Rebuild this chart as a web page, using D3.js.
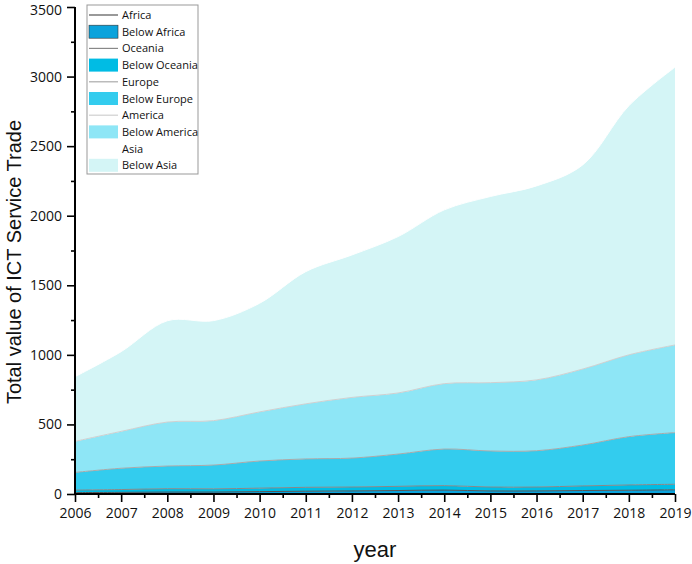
<!DOCTYPE html>
<html>
<head>
<meta charset="utf-8">
<script src="https://cdn.jsdelivr.net/npm/d3@7"></script>
<style>
  body { margin: 0; background: #fff; }
  .axis text { font-family: "Open Sans", sans-serif; font-size: 14px; fill: #111; }
  .axis path, .axis line { stroke: #000; }
</style>
</head>
<body>
<div class="chart-container"></div>
<script>
const years = [2006, 2007, 2008, 2009, 2010, 2011, 2012, 2013, 2014, 2015, 2016, 2017, 2018, 2019];

// values per region (stacked bottom -> top)
const africa  = [10, 12, 14, 14, 17, 20, 22, 25, 28, 22, 22, 25, 27, 30];
const oceania = [18, 20, 24, 23, 25, 28, 28, 30, 32, 28, 28, 33, 38, 40];
const europe  = [127, 153, 163, 171, 195, 204, 208, 232, 263, 259, 261, 294, 347, 371];
const america = [223, 265, 316, 319, 353, 396, 436, 439, 470, 491, 509, 546, 588, 630];
const asia    = [465, 573, 728, 719, 781, 950, 1024, 1124, 1249, 1338, 1394, 1467, 1790, 1996];

const regions = ["Africa", "Oceania", "Europe", "America", "Asia"];
const fillColors = ["#0ba3dc", "#00bce4", "#33ccee", "#8ee6f6", "#d4f5f6"];
const lineColors = ["#555555", "#888888", "#aaaaaa", "#d0d0d0", "#ffffff"];

const yTicks = [0, 500, 1000, 1500, 2000, 2500, 3000, 3500];

const width = 692, height = 564;
const margin = { left: 75, top: 7, right: 17, bottom: 70 };

const table = years.map((yr, i) => ({
  year: yr,
  Africa: africa[i],
  Oceania: oceania[i],
  Europe: europe[i],
  America: america[i],
  Asia: asia[i]
}));

const svg = d3.select(".chart-container")
  .append("svg")
  .attr("width", width)
  .attr("height", height);

const x = d3.scaleLinear()
  .domain([2006, 2019])
  .range([margin.left, width - margin.right]);

const y = d3.scaleLinear()
  .domain([0, 3500])
  .range([height - margin.bottom, margin.top]);

const series = d3.stack().keys(regions)(table);

const area = d3.area()
  .x(d => x(d.data.year))
  .y0(d => y(d[0]))
  .y1(d => y(d[1]))
  .curve(d3.curveCatmullRom);

const line = d3.line()
  .x(d => x(d.data.year))
  .y(d => y(d[1]))
  .curve(d3.curveCatmullRom);

svg.append("g")
  .selectAll("path")
  .data(series)
  .enter()
  .append("path")
  .attr("fill", (d, i) => fillColors[i])
  .attr("d", area);

svg.append("g")
  .selectAll("path")
  .data(series)
  .enter()
  .append("path")
  .attr("fill", "none")
  .attr("stroke", (d, i) => lineColors[i])
  .attr("stroke-width", 1)
  .attr("d", line);

// X axis (major + minor ticks)
const xAxisG = svg.append("g")
  .attr("class", "axis")
  .attr("transform", "translate(0," + y(0) + ")");
xAxisG.call(d3.axisBottom(x).tickValues(years).tickFormat(d3.format("d")).tickSize(8).tickPadding(6));
svg.append("g")
  .attr("class", "axis")
  .attr("transform", "translate(0," + y(0) + ")")
  .call(d3.axisBottom(x).tickValues(years.slice(1).map(v => v - 0.5)).tickFormat("").tickSize(4))
  .select(".domain").remove();

// Y axis (major + minor ticks)
const yAxisG = svg.append("g")
  .attr("class", "axis")
  .attr("transform", "translate(" + x(2006) + ",0)");
yAxisG.call(d3.axisLeft(y).tickValues(yTicks).tickFormat(d3.format("d")).tickSize(8).tickPadding(5));
svg.append("g")
  .attr("class", "axis")
  .attr("transform", "translate(" + x(2006) + ",0)")
  .call(d3.axisLeft(y).tickValues(yTicks.slice(1).map(v => v - 250)).tickFormat("").tickSize(4))
  .select(".domain").remove();

// keep the top label inside the picture
yAxisG.selectAll(".tick text").filter(d => d === 3500).attr("dy", "0.5em");

svg.selectAll(".axis path").attr("stroke-width", 2);
svg.selectAll(".axis line").attr("stroke-width", 1.6);
xAxisG.select(".domain").attr("d", "M" + x(2006) + ",0H" + x(2019));
yAxisG.select(".domain").attr("d", "M0," + y(0) + "V" + y(3500));

// axis titles
svg.append("text")
  .attr("x", (x(2006) + x(2019)) / 2)
  .attr("y", 557)
  .attr("text-anchor", "middle")
  .style("font-family", "'Liberation Sans', Arial, sans-serif")
  .style("font-size", "22px")
  .style("fill", "#111")
  .text("year");

svg.append("text")
  .attr("transform", "translate(21," + 262 + ")rotate(-90)")
  .attr("text-anchor", "middle")
  .style("font-family", "'Liberation Sans', Arial, sans-serif")
  .style("font-size", "20px")
  .style("fill", "#111")
  .text("Total value of ICT Service Trade");

// legend
const legend = svg.append("g").attr("transform", "translate(87,5)");
legend.append("rect")
  .attr("width", 111)
  .attr("height", 169)
  .attr("fill", "#fff")
  .attr("stroke", "#999")
  .attr("stroke-width", 1);

const rowH = 16.7;
regions.forEach((name, i) => {
  const cyLine = 10 + rowH * (2 * i);
  const cyFill = 10 + rowH * (2 * i + 1);
  legend.append("line")
    .attr("x1", 2).attr("x2", 31)
    .attr("y1", cyLine).attr("y2", cyLine)
    .attr("stroke", lineColors[i])
    .attr("stroke-width", 1.2);
  legend.append("text")
    .attr("x", 35).attr("y", cyLine + 4)
    .style("font-family", "'Open Sans', sans-serif")
    .style("font-size", "11px")
    .style("fill", "#111")
    .text(name);
  legend.append("rect")
    .attr("x", 2).attr("y", cyFill - 6.5)
    .attr("width", 29).attr("height", 13)
    .attr("fill", fillColors[i])
    .attr("stroke", i === 0 ? "#333" : "none")
    .attr("stroke-width", 0.6);
  legend.append("text")
    .attr("x", 35).attr("y", cyFill + 4)
    .style("font-family", "'Open Sans', sans-serif")
    .style("font-size", "11px")
    .style("fill", "#111")
    .text("Below " + name);
});
</script>
</body>
</html>
